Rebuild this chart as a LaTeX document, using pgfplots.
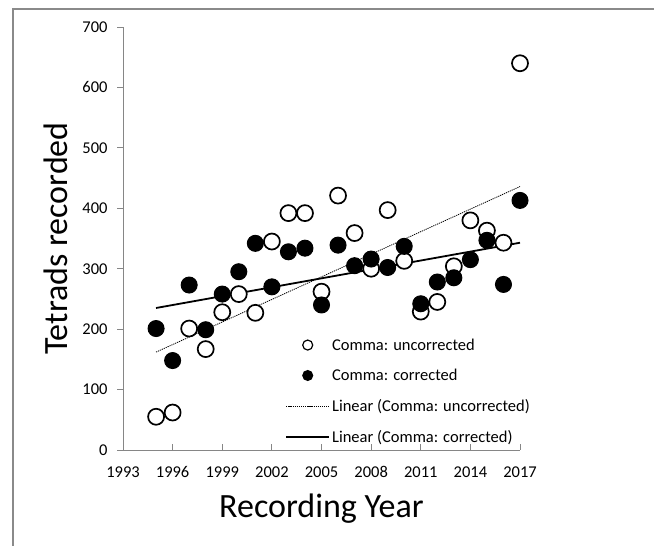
\documentclass[border=0pt]{standalone}
\usepackage{fontspec}
\setmainfont{Carlito}
\usepackage{pgfplots}
\pgfplotsset{compat=1.18}
\definecolor{axisgray}{HTML}{868686}
\definecolor{bordergray}{HTML}{8A8A8A}
\begin{document}
\begin{tikzpicture}[x=1bp,y=1bp]
\useasboundingbox (0,0) rectangle (654,546);
\begin{scope}
\clip (0,0) rectangle (654,546);
\draw[color=bordergray, line width=1.3bp] (13,-20) -- (13,537) -- (700,537);
\end{scope}
\begin{axis}[
  at={(123bp,96bp)}, anchor=south west,
  scale only axis, width=397bp, height=423bp,
  xmin=1993, xmax=2017, ymin=0, ymax=700,
  xtick={1993,1996,...,2017}, ytick={0,100,...,700},
  axis x line=bottom, axis y line=left,
  axis line style={-, draw=axisgray, line width=0.9bp},
  tick align=outside, major tick length=6bp,
  tick style={draw=axisgray, line width=0.9bp},
  x tick style={yshift=6bp},
  /pgf/number format/assume math mode=true,
  /pgf/number format/1000 sep={},
  ticklabel style={font=\fontsize{16.5bp}{19bp}\selectfont, text=black},
  xticklabel style={yshift=-7bp},
  yticklabel style={xshift=-6bp},
  xlabel={Recording Year}, ylabel={Tetrads recorded},
  label style={font=\fontsize{34bp}{39bp}\selectfont},
  xlabel style={at={(axis description cs:0.5,-0.139)}, anchor=center},
  ylabel style={at={(axis description cs:-0.169,0.5)}, anchor=center},
  clip=false,
  legend image code/.code={\draw[mark repeat=2,mark phase=2,#1] plot coordinates {(0bp,0bp) (21.5bp,0bp) (43bp,0bp)};},
  legend style={at={(axis cs:2002.8,188)}, anchor=north west, draw=none, fill=none,
    inner sep=0pt, row sep=13.5bp, font=\fontsize{16.5bp}{19bp}\selectfont,
    cells={anchor=west}},
]
\addplot[only marks, mark=*, mark size=8bp, draw=black, fill=white, line width=1.7bp,
  legend image post style={mark size=5bp, line width=1.2bp}]
  table[row sep=\\] {
x y\\
1995 55\\ 1996 62\\ 1997 201\\ 1998 167\\ 1999 228\\ 2000 258\\ 2001 227\\ 2002 345\\
2003 392\\ 2004 392\\ 2005 262\\ 2006 421\\ 2007 359\\ 2008 300\\ 2009 397\\ 2010 313\\
2011 229\\ 2012 245\\ 2013 304\\ 2014 380\\ 2015 363\\ 2016 343\\ 2017 640\\
};
\addlegendentry{Comma: uncorrected}
\addplot[only marks, mark=*, mark size=8bp, draw=black, fill=black, line width=1bp,
  legend image post style={mark size=5bp}]
  table[row sep=\\] {
x y\\
1995 201\\ 1996 148\\ 1997 273\\ 1998 199\\ 1999 258\\ 2000 295\\ 2001 342\\ 2002 270\\
2003 328\\ 2004 334\\ 2005 240\\ 2006 339\\ 2007 305\\ 2008 316\\ 2009 302\\ 2010 337\\
2011 242\\ 2012 278\\ 2013 285\\ 2014 315\\ 2015 347\\ 2016 274\\ 2017 413\\
};
\addlegendentry{Comma: corrected}
\addplot[black, line width=0.8bp, dash pattern=on 1.2bp off 0.9bp] coordinates {(1995,162) (2017,436)};
\addlegendentry{Linear (Comma: uncorrected)}
\addplot[black, line width=1.8bp] coordinates {(1995,235) (2017,343)};
\addlegendentry{Linear (Comma: corrected)}
\end{axis}
\end{tikzpicture}
\end{document}
